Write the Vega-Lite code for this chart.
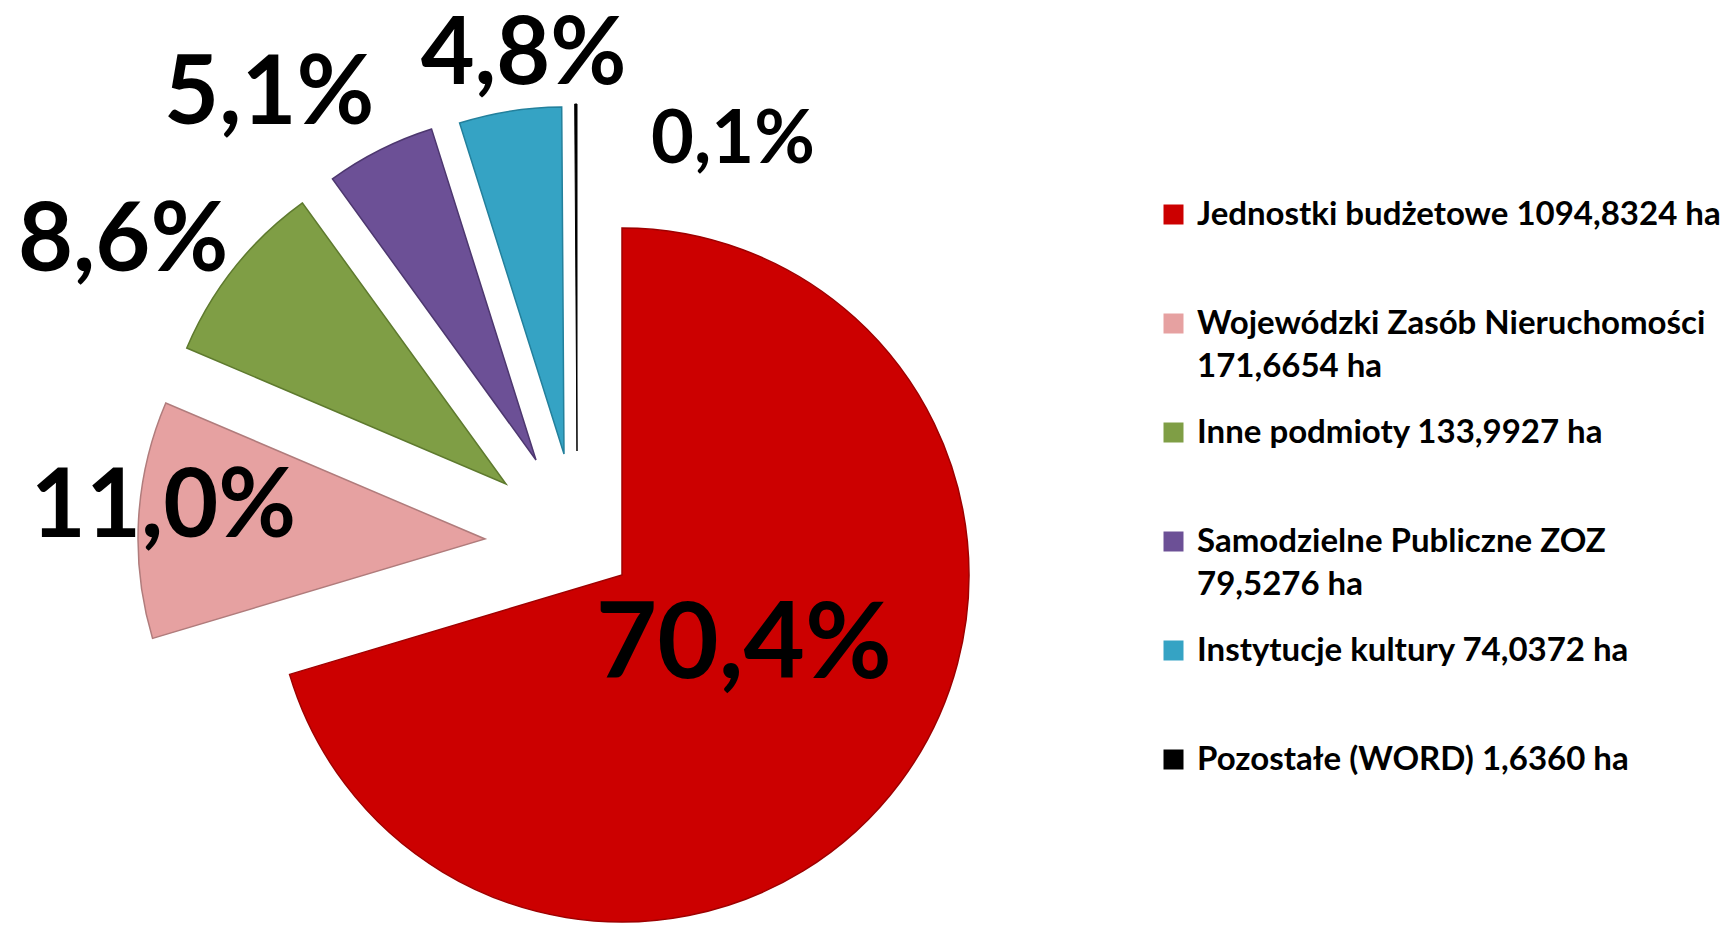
{
  "$schema": "https://vega.github.io/schema/vega-lite/v6.json",
  "width": 1726,
  "height": 925,
  "autosize": {"type": "none"},
  "padding": 0,
  "background": "white",
  "data": {
    "values": [
      {"ord": 1, "kategoria": "Jednostki budżetowe 1094,8324 ha", "value": 1094.8324, "pct": "70,4%"},
      {"ord": 2, "kategoria": "Wojewódzki Zasób Nieruchomości 171,6654 ha", "value": 171.6654, "pct": "11,0%"},
      {"ord": 3, "kategoria": "Inne podmioty 133,9927 ha", "value": 133.9927, "pct": "8,6%"},
      {"ord": 4, "kategoria": "Samodzielne Publiczne ZOZ 79,5276 ha", "value": 79.5276, "pct": "5,1%"},
      {"ord": 5, "kategoria": "Instytucje kultury 74,0372 ha", "value": 74.0372, "pct": "4,8%"},
      {"ord": 6, "kategoria": "Pozostałe (WORD) 1,6360 ha", "value": 1.636, "pct": "0,1%"}
    ]
  },
  "encoding": {
    "theta": {"field": "value", "type": "quantitative", "stack": true},
    "order": {"field": "ord", "type": "quantitative"}
  },
  "layer": [
    {
      "mark": {"type": "arc", "outerRadius": 347, "xOffset": -241, "yOffset": 112.5, "stroke": "#9E0000", "strokeWidth": 1.5},
      "encoding": {
        "color": {
          "field": "kategoria", "type": "nominal",
          "scale": {
            "domain": ["Jednostki budżetowe 1094,8324 ha", "Wojewódzki Zasób Nieruchomości 171,6654 ha", "Inne podmioty 133,9927 ha", "Samodzielne Publiczne ZOZ 79,5276 ha", "Instytucje kultury 74,0372 ha", "Pozostałe (WORD) 1,6360 ha"],
            "range": ["#CC0000", "#E6A1A1", "#7F9E45", "#6C5096", "#35A3C4", "#000000"]
          },
          "legend": {
            "title": null,
            "orient": "none",
            "legendX": 1157,
            "legendY": 198,
            "padding": 0,
            "symbolType": "square",
            "symbolSize": 400,
            "symbolStrokeWidth": 0,
            "labelFont": "Lato",
            "labelFontWeight": "bold",
            "labelFontSize": 33,
            "labelColor": "#000000",
            "labelOffset": 7,
            "labelLimit": 800,
            "gridAlign": "all",
            "rowPadding": 32,
            "labelExpr": "datum.label == 'Wojewódzki Zasób Nieruchomości 171,6654 ha' ? ['Wojewódzki Zasób Nieruchomości', '171,6654 ha'] : datum.label == 'Samodzielne Publiczne ZOZ 79,5276 ha' ? ['Samodzielne Publiczne ZOZ', '79,5276 ha'] : datum.label",
            "encode": {"labels": {"update": {"lineHeight": {"value": 43}}}}
          }
        },
        "opacity": {"condition": {"test": "datum.ord == 1", "value": 1}, "value": 0}
      }
    },
    {
      "mark": {"type": "arc", "outerRadius": 347, "xOffset": -378, "yOffset": 76.5, "stroke": "#B07C7C", "strokeWidth": 1.5},
      "encoding": {
        "color": {"field": "kategoria", "type": "nominal"},
        "opacity": {"condition": {"test": "datum.ord == 2", "value": 1}, "value": 0}
      }
    },
    {
      "mark": {"type": "arc", "outerRadius": 347, "xOffset": -357, "yOffset": 21.5, "stroke": "#5E7A2E", "strokeWidth": 1.5},
      "encoding": {
        "color": {"field": "kategoria", "type": "nominal"},
        "opacity": {"condition": {"test": "datum.ord == 3", "value": 1}, "value": 0}
      }
    },
    {
      "mark": {"type": "arc", "outerRadius": 347, "xOffset": -327, "yOffset": -2.5, "stroke": "#4D376F", "strokeWidth": 1.5},
      "encoding": {
        "color": {"field": "kategoria", "type": "nominal"},
        "opacity": {"condition": {"test": "datum.ord == 4", "value": 1}, "value": 0}
      }
    },
    {
      "mark": {"type": "arc", "outerRadius": 347, "xOffset": -299, "yOffset": -8.5, "stroke": "#23809C", "strokeWidth": 1.5},
      "encoding": {
        "color": {"field": "kategoria", "type": "nominal"},
        "opacity": {"condition": {"test": "datum.ord == 5", "value": 1}, "value": 0}
      }
    },
    {
      "mark": {"type": "arc", "outerRadius": 347, "xOffset": -286, "yOffset": -11.5, "stroke": "#000000", "strokeWidth": 1},
      "encoding": {
        "color": {"field": "kategoria", "type": "nominal"},
        "opacity": {"condition": {"test": "datum.ord == 6", "value": 1}, "value": 0}
      }
    },
    {
      "mark": {"type": "text", "radius": 137, "xOffset": -241, "yOffset": 112.5, "dx": 12, "dy": -11, "font": "Lato", "fontWeight": "bold", "fontSize": 106, "color": "#000000"},
      "encoding": {"text": {"condition": {"test": "datum.ord == 1", "field": "pct", "type": "nominal"}, "value": ""}}
    },
    {
      "mark": {"type": "text", "radius": 320, "xOffset": -378, "yOffset": 76.5, "dx": -2, "dy": -13, "font": "Lato", "fontWeight": "bold", "fontSize": 95, "color": "#000000"},
      "encoding": {"text": {"condition": {"test": "datum.ord == 2", "field": "pct", "type": "nominal"}, "value": ""}}
    },
    {
      "mark": {"type": "text", "radius": 454, "xOffset": -357, "yOffset": 21.5, "dx": -28, "dy": 41, "font": "Lato", "fontWeight": "bold", "fontSize": 95, "color": "#000000"},
      "encoding": {"text": {"condition": {"test": "datum.ord == 3", "field": "pct", "type": "nominal"}, "value": ""}}
    },
    {
      "mark": {"type": "text", "radius": 451, "xOffset": -327, "yOffset": -2.5, "dx": -64, "dy": 38, "font": "Lato", "fontWeight": "bold", "fontSize": 95, "color": "#000000"},
      "encoding": {"text": {"condition": {"test": "datum.ord == 4", "field": "pct", "type": "nominal"}, "value": ""}}
    },
    {
      "mark": {"type": "text", "radius": 408, "xOffset": -299, "yOffset": -8.5, "dx": 23, "dy": 5, "font": "Lato", "fontWeight": "bold", "fontSize": 93, "color": "#000000"},
      "encoding": {"text": {"condition": {"test": "datum.ord == 5", "field": "pct", "type": "nominal"}, "value": ""}}
    },
    {
      "mark": {"type": "text", "radius": 314, "xOffset": -286, "yOffset": -11.5, "dx": 157, "dy": 4, "font": "Lato", "fontWeight": "bold", "fontSize": 74, "color": "#000000"},
      "encoding": {"text": {"condition": {"test": "datum.ord == 6", "field": "pct", "type": "nominal"}, "value": ""}}
    }
  ],
  "config": {
    "view": {"stroke": null},
    "style": {"guide-label": {"lineHeight": 43}}
  }
}
